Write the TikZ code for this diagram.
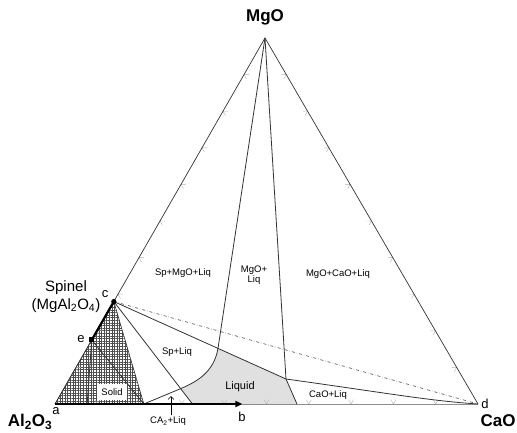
\documentclass[tikz,border=0pt]{standalone}
\usepackage{fontspec}
\setmainfont{Liberation Sans}
\usepackage{tikz}
\usetikzlibrary{arrows.meta,positioning,calc,patterns.meta}

\begin{document}
\begin{tikzpicture}[x=1pt,y=-1pt,
  edge/.style={draw=black!80, line width=0.7pt},
  phase/.style={draw=black!80, line width=0.8pt},
  heavy/.style={line width=2.2pt, black},
  tick/.style={draw=black!30, line width=0.4pt},
  hatch/.style={pattern={Lines[distance=2.6pt, angle=#1, line width=0.35pt]}, pattern color=black!70},
  lbl/.style={font=\fontsize{9.5}{10}\selectfont, inner sep=1pt},
  pt/.style={font=\fontsize{13}{14}\selectfont, inner sep=1pt},
  comp/.style={font=\bfseries\fontsize{17}{18}\selectfont, inner sep=0pt},
  arr/.style={-{Triangle[length=7pt,width=6pt]}, line width=2.2pt}
]
\useasboundingbox (0,0) rectangle (517,432);

\coordinate (A) at (55,404);
\coordinate (M) at (265,38);
\coordinate (D) at (478,404);
\coordinate (c) at ($(A)!0.28!(M)$);
\coordinate (e) at ($(A)!0.175!(M)$);
\coordinate (ca2) at ($(A)!0.21!(D)$);
\coordinate (f) at ($(A)!0.325!(D)$);
\coordinate (g) at ($(A)!0.572!(D)$);
\coordinate (b) at ($(A)!0.443!(D)$);
\coordinate (v) at ($(A)!0.076!(D)$);
\coordinate (p1) at (286,379);
\coordinate (p2) at ($(c)!0.605!(p1)$);
\coordinate (x) at ($(c)!0.85!(f)$);

\fill[black!12] (p2) .. controls (214,372) and (197,381.7) .. (x) -- (f) -- (g) -- (p1) -- cycle;
\fill[hatch=0] (A) -- (c) -- (ca2) -- cycle;
\fill[hatch=90] (A) -- (c) -- (ca2) -- cycle;
\draw[draw=black!80, line width=0.6pt] (A) -- (c) -- (ca2);

\foreach \k in {1,...,9} {
  \draw[tick] ($(A)!\k/10!(D)$) ++(-120:5) -- ++(60:5) -- ++(-60:5);
  \draw[tick] ($(D)!\k/10!(M)$) ++(180:5) -- ++(0:5) -- ++(120:5);
  \draw[tick] ($(A)!\k/10!(M)$) ++(0:5) -- ++(180:5) -- ++(60:5);
}

\draw[edge] (A) -- (M) -- (D);
\draw[draw=black!45, line width=0.6pt] (A) -- (D);
\draw[phase] (M) -- (p2) .. controls (214,372) and (197,381.7) .. (x) -- (ca2);
\draw[phase] (M) -- (p1) -- (g);
\draw[phase] (c) -- (p1) .. controls (380,392) and (430,401) .. (D);
\draw[phase] (c) -- (f);
\draw[phase] (e) -- (ca2);
\draw[phase] (e) -- (v);
\draw[black!70, dash dot, line width=0.6pt] (c) -- (D);
\draw[heavy] (e) -- (c);
\draw[arr] (A) -- (b);
\fill (c) circle (2.6);
\fill (e) ++(-2.5,-2.5) rectangle ++(5,5);

\node[comp] (mgo) at (265,17) {MgO};
\node[comp] (al) at (30,422) {Al\textsubscript{2}O\textsubscript{3}};
\node[comp] (cao) at (498,421) {CaO};
\node[font=\fontsize{15}{16}\selectfont, inner sep=0pt] (spinel) at (66,288) {Spinel};
\node[font=\fontsize{15}{16}\selectfont, inner sep=0pt, below=3pt of spinel] (formula) {(MgAl\textsubscript{2}O\textsubscript{4})};

\node[pt] (la) at (56,411) {a};
\node[pt] (lb) at (242,417) {b};
\node[pt] (lc) at (105,294) {c};
\node[pt] (ld) at (485,404) {d};
\node[pt] (le) at (81,339) {e};

\node[lbl] (spmgo) at (183,273) {Sp+MgO+Liq};
\node[lbl, align=center] (mgoliq) at (254,275) {MgO+\\Liq};
\node[lbl] (mgocao) at (338,274) {MgO+CaO+Liq};
\node[lbl] (spliq) at (177,352) {Sp+Liq};
\node[font=\fontsize{11}{12}\selectfont] (liquid) at (240,387) {Liquid};
\node[lbl] (caoliq) at (328,395) {CaO+Liq};
\node[lbl, fill=white, minimum width=30pt, minimum height=16pt] (solid) at (112,392) {Solid};
\node[lbl] (ca2liq) at (168,421) {CA\textsubscript{2}+Liq};
\coordinate (ca2pt) at (171,396);
\draw[-{Straight Barb[length=3pt]}, line width=0.6pt] (ca2liq.north -| ca2pt) -- (ca2pt);

\end{tikzpicture}
\end{document}
